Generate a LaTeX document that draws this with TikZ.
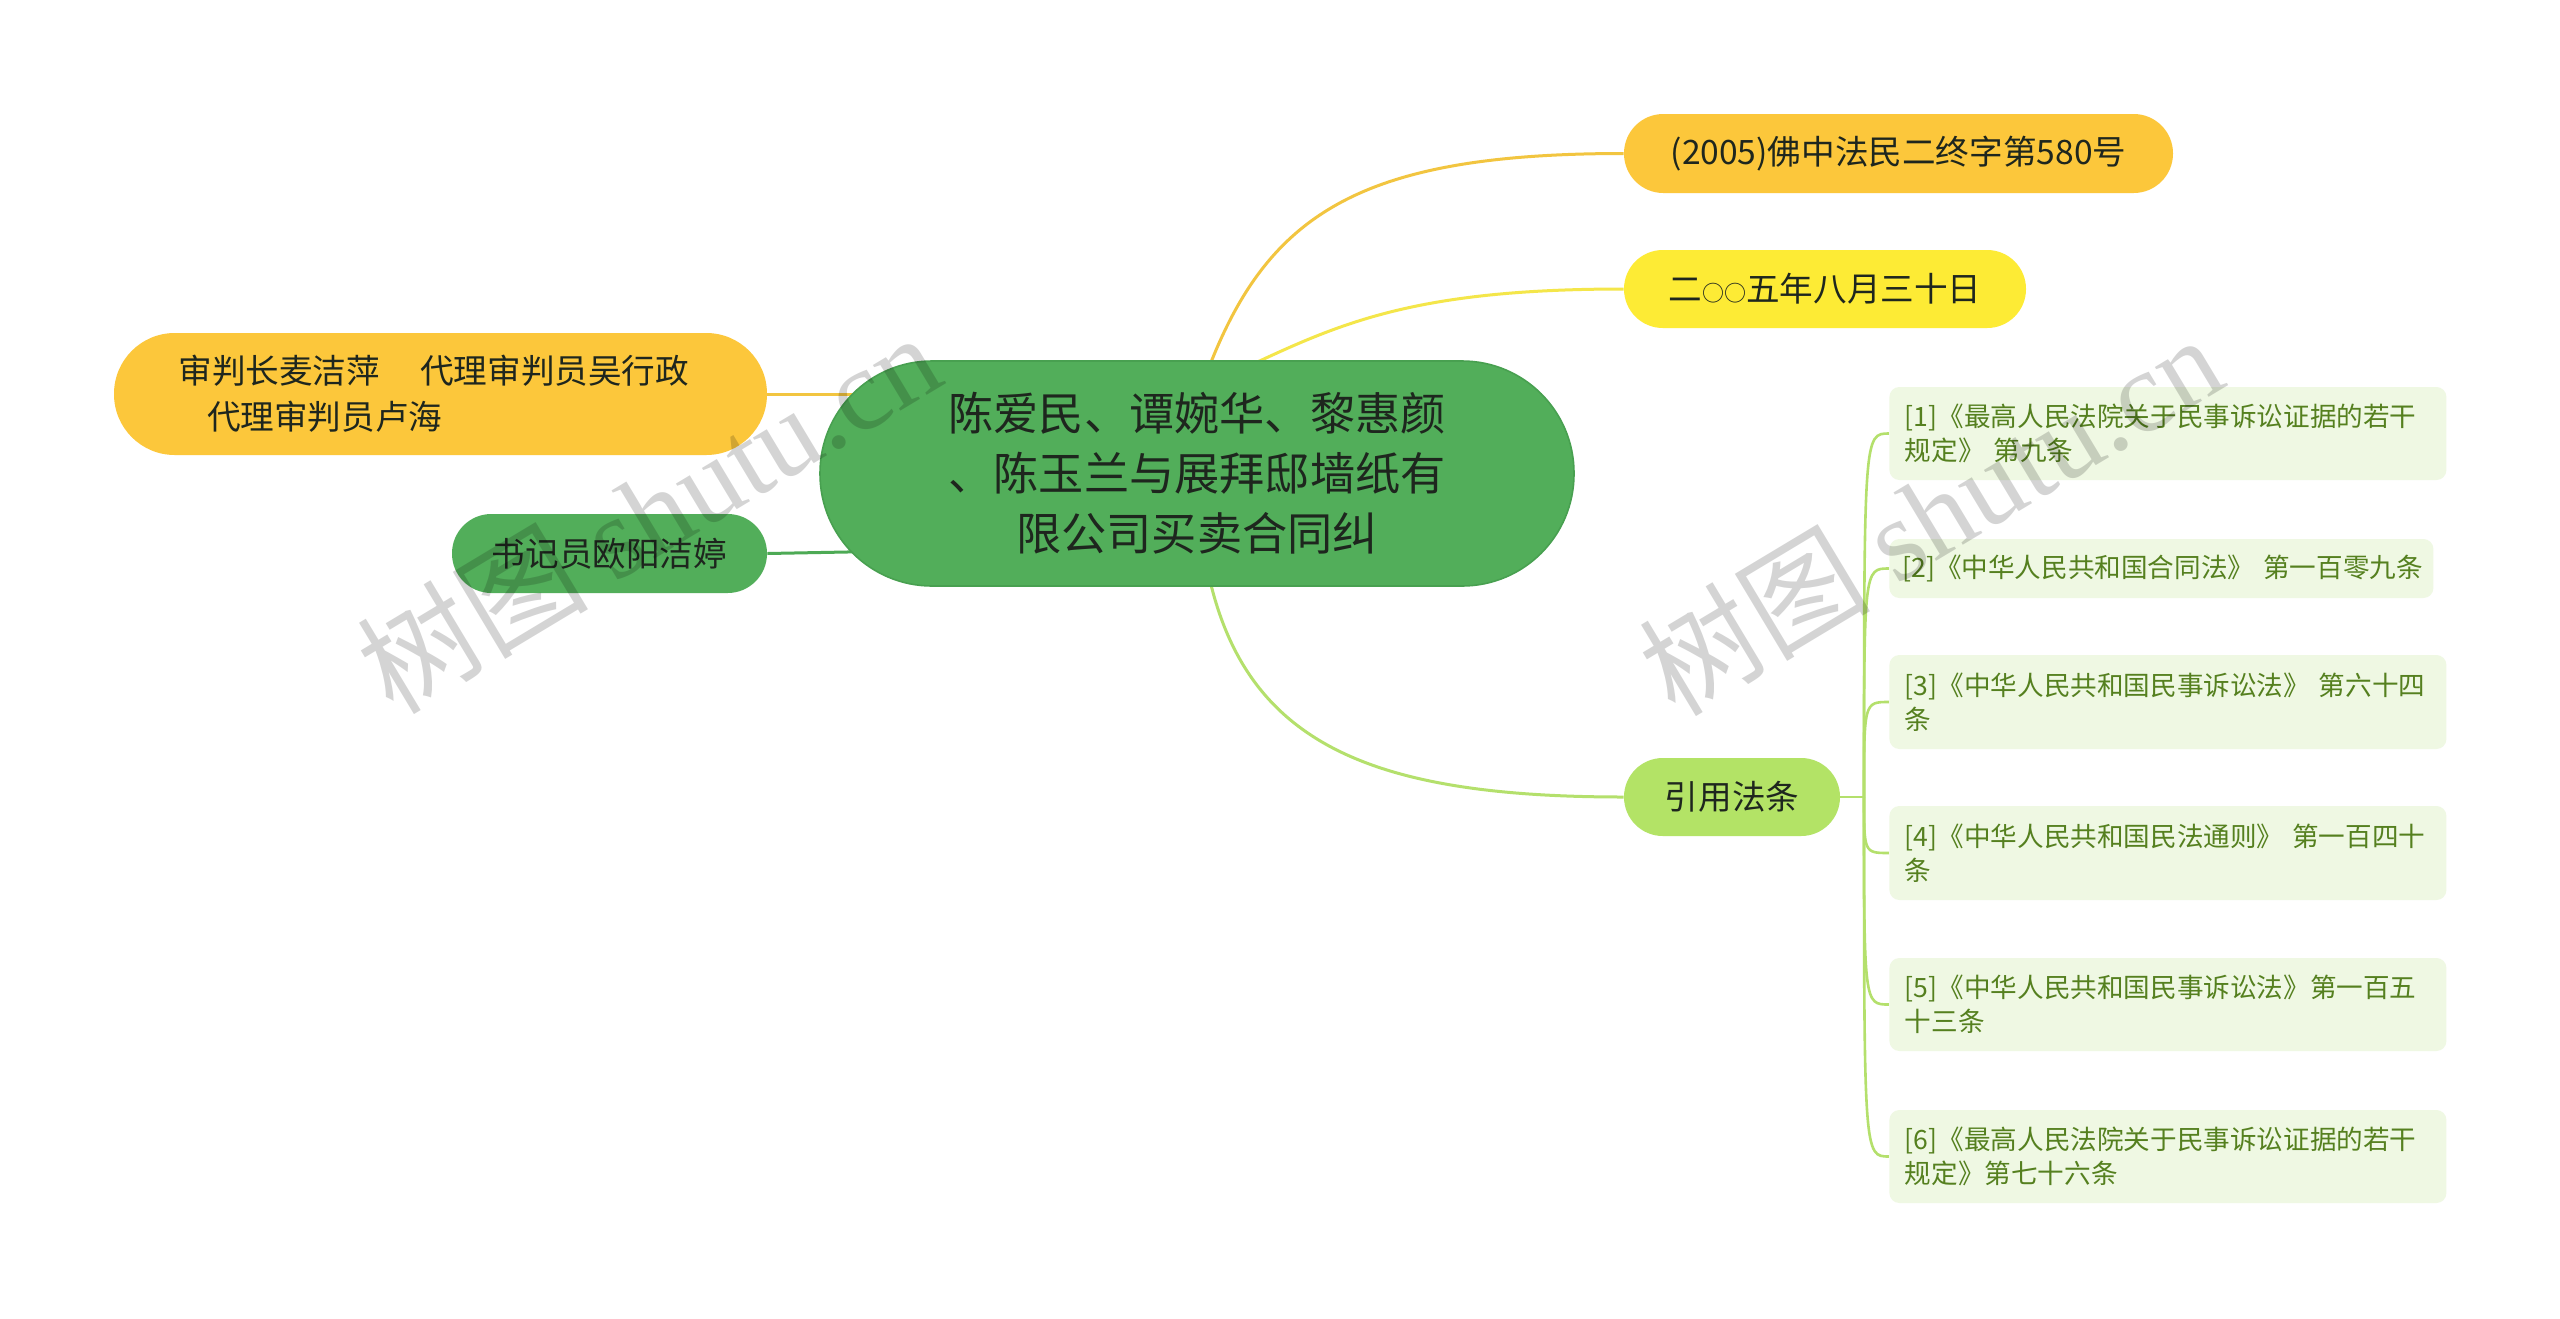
\documentclass[tikz,border=0pt]{standalone}
\usepackage{fontspec}
\setmainfont{Noto Sans CJK SC}
\newfontfamily\wmlatin{Liberation Serif}
\usetikzlibrary{calc}
\definecolor{cgreen}{HTML}{52AE5A}
\definecolor{cgreenb}{HTML}{48A050}
\definecolor{corange}{HTML}{FCC73B}
\definecolor{corangeline}{HTML}{F2C540}
\definecolor{cyellow}{HTML}{FDEB35}
\definecolor{cyellowline}{HTML}{F4E64A}
\definecolor{clgreen}{HTML}{B3E366}
\definecolor{clgreenline}{HTML}{B4E06C}
\definecolor{cgreenline}{HTML}{4DAA55}
\definecolor{leaffill}{HTML}{EFF8E3}
\definecolor{leaftext}{HTML}{55801F}
\definecolor{ctext}{HTML}{1E261E}
\newcommand{\smallcirc}{{\fontsize{11}{11}\selectfont ○}}
\pgfdeclarelayer{bg}
\pgfsetlayers{bg,main}
\begin{document}
\begin{tikzpicture}[x=0.5pt,y=-0.5pt,
  stadium/.style 2 args={rectangle, inner sep=0pt, align=center,
    minimum width=#1*0.5pt, minimum height=#2*0.5pt, rounded corners=#2*0.249pt},
  lvl/.style={font=\fontsize{16.8}{23}\selectfont, text=ctext},
  leaf/.style={anchor=west, rectangle, rounded corners=5pt, fill=leaffill, text=leaftext,
    align=left, text width=263pt, inner xsep=7.5pt, inner ysep=0pt,
    minimum width=278.5pt, font=\fontsize{13.3}{17}\selectfont},
  conn/.style={line width=1.5pt},
  lconn/.style={line width=1.3pt, clgreenline},
  wm/.style={text=black, text opacity=0.17, font=\fontsize{58}{58}\selectfont, inner sep=0pt}]
\useasboundingbox (0,0) rectangle (2560,1318);
\begin{pgfonlayer}{bg}
\fill[white] (0,0) rectangle (2560,1318);
\end{pgfonlayer}

% central
\node[stadium={754}{225}, fill=cgreen, draw=cgreenb, line width=0.8pt,
  font=\fontsize{22.6}{30}\selectfont, text=ctext] (central) at (1197,473.5)
  {陈爱民、谭婉华、黎惠颜\\、陈玉兰与展拜邸墙纸有\\限公司买卖合同纠};

% level 1
\node[stadium={549}{79}, fill=corange, lvl] (n1) at (1898.5,153.5) {(2005)佛中法民二终字第580号};
\node[stadium={402}{78}, fill=cyellow, lvl] (n2) at (1825,289) {二\smallcirc\smallcirc 五年八月三十日};
\node[stadium={216}{78}, fill=clgreen, lvl] (yy) at (1732,797) {引用法条};
\node[stadium={653}{122}, fill=corange, lvl, align=left, text width=262pt] (judges) at (440.5,394)
  {审判长麦洁萍\hspace{1.2em}代理审判员吴行政\\\hspace*{0.85em}代理审判员卢海};
\node[stadium={315}{79}, fill=cgreen, lvl] (shuji) at (609.5,553.5) {书记员欧阳洁婷};

% leaves
\node[leaf, minimum height=46.5pt] (l1) at (1889,433.5)
  {[1]《最高人民法院关于民事诉讼证据的若干\\规定》 第九条};
\node[leaf, minimum height=29.5pt, text width=259pt, inner xsep=6.5pt, minimum width=272pt] (l2) at (1889,568.5)
  {\mbox{[2]《中华人民共和国合同法》 第一百零九条}};
\node[leaf, minimum height=47pt] (l3) at (1889,702)
  {[3]《中华人民共和国民事诉讼法》 第六十四\\条};
\node[leaf, minimum height=47pt] (l4) at (1889,853)
  {[4]《中华人民共和国民法通则》 第一百四十\\条};
\node[leaf, minimum height=46.5pt] (l5) at (1889,1004.5)
  {[5]《中华人民共和国民事诉讼法》第一百五\\十三条};
\node[leaf, minimum height=46.5pt] (l6) at (1889,1156.5)
  {[6]《最高人民法院关于民事诉讼证据的若干\\规定》第七十六条};

\coordinate (cj) at (900,551);
\coordinate (hub) at (1864,797);

\begin{pgfonlayer}{bg}
\draw[conn, corangeline] ([shift={(14,2)}]central.north) .. controls +(60,-150) and +(-260,0) .. (n1.west);
\draw[conn, cyellowline] ([shift={(60,2)}]central.north) .. controls +(90,-42) and +(-200,0) .. (n2.west);
\draw[conn, clgreenline] ([shift={(14,-2)}]central.south) .. controls +(40,160) and +(-250,0) .. (yy.west);
\draw[conn, corangeline] (judges.east) -- (judges.east -| central.center);
\draw[conn, cgreenline] (shuji.east) -- (cj);
\draw[lconn] (yy.east) -- (hub);
\foreach \l in {l1,l2,l3,l4,l5,l6}
  \draw[lconn] (hub) .. controls (hub |- \l.west) and (hub |- \l.west) .. (\l.west);
\end{pgfonlayer}

% watermarks
\node[wm, rotate=31] (wm1) at (648,512) {树图 {\wmlatin shutu.cn}};
\node[wm, rotate=31] (wm2) at (1930,514) {树图 {\wmlatin shutu.cn}};
\end{tikzpicture}
\end{document}
